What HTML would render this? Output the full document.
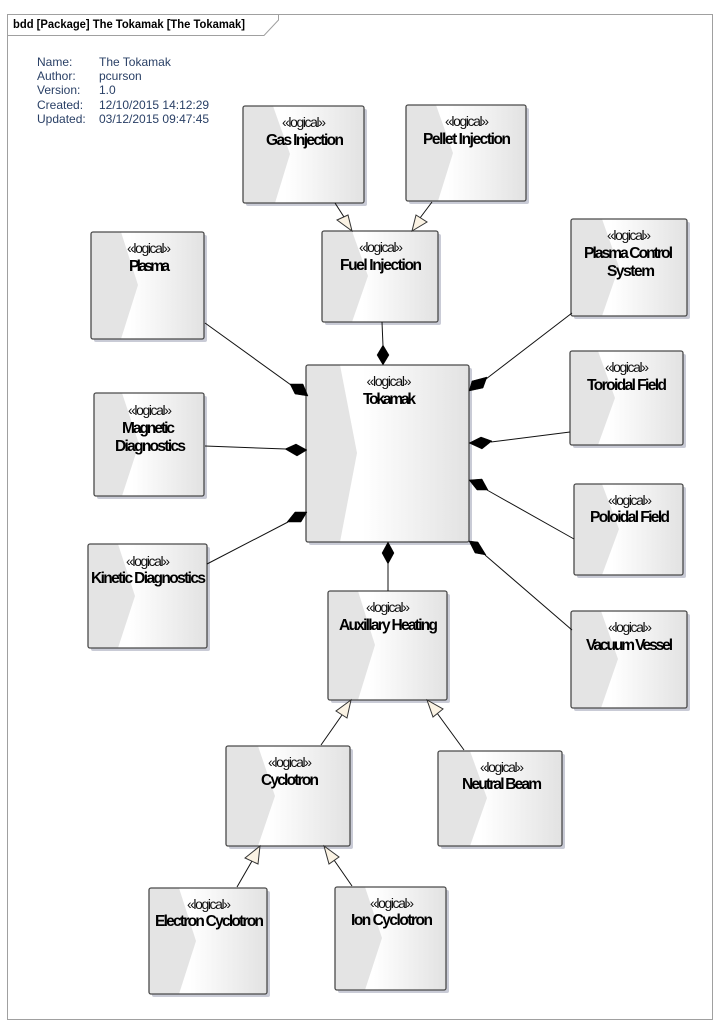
<!DOCTYPE html>
<html><head><meta charset="utf-8"><style>
html,body{margin:0;padding:0;background:#fff}
svg{display:block}
text{font-family:"Liberation Sans",Arial,sans-serif;text-anchor:middle;fill:#000}
.s{font-size:14px;fill:#111}
.n{font-size:15.5px;font-weight:bold}
.m{font-size:12px;text-anchor:start;fill:#2a4066}
.sh{fill:#c9cbd6}
.b{fill:none;stroke:#4a4a4a;stroke-width:1.3}
.c{fill:#e4e4e4}
.l{stroke:#111;stroke-width:1;fill:none}
.d{fill:#000;stroke:#000;stroke-width:.5}
.t{fill:#fbf3e4;stroke:#333;stroke-width:1}
</style></head><body>
<svg width="725" height="1033" viewBox="0 0 725 1033" xmlns="http://www.w3.org/2000/svg">
<defs><linearGradient id="g" x1="0" y1="0" x2="1" y2="0"><stop offset="0" stop-color="#fff"/><stop offset=".35" stop-color="#fff"/><stop offset="1" stop-color="#e2e2e2"/></linearGradient></defs>
<rect x="7.5" y="14.5" width="705" height="1005" fill="#fff" stroke="#a0a0a0" stroke-width="1"/>
<path d="M7.5 35.5H264L278.5 20V14.5" fill="none" stroke="#a0a0a0"/>
<text x="13" y="28" textLength="232" lengthAdjust="spacingAndGlyphs" style="font-size:12px;font-weight:bold;text-anchor:start">bdd [Package] The Tokamak [The Tokamak]</text>
<text class="m" x="37" y="66">Name:</text><text class="m" x="99" y="66">The Tokamak</text>
<text class="m" x="37" y="80">Author:</text><text class="m" x="99" y="80">pcurson</text>
<text class="m" x="37" y="94">Version:</text><text class="m" x="99" y="94">1.0</text>
<text class="m" x="37" y="109">Created:</text><text class="m" x="99" y="109">12/10/2015 14:12:29</text>
<text class="m" x="37" y="123">Updated:</text><text class="m" x="99" y="123">03/12/2015 09:47:45</text>

<!-- Gas Injection -->
<g><rect class="sh" x="246" y="109" width="121" height="97" rx="2"/><rect x="243" y="106" width="121" height="97" rx="2" fill="url(#g)"/><polygon class="c" points="243,106 273,106 290,154 275,203 243,203"/><rect class="b" x="243" y="106" width="121" height="97" rx="2"/><text class="s" x="304" y="127" textLength="44">«logical»</text><text class="n" x="305" y="145" textLength="78">Gas Injection</text></g>
<!-- Pellet Injection -->
<g><rect class="sh" x="409" y="108" width="120" height="96" rx="2"/><rect x="406" y="105" width="120" height="96" rx="2" fill="url(#g)"/><polygon class="c" points="406,105 436,105 453,153 438,201 406,201"/><rect class="b" x="406" y="105" width="120" height="96" rx="2"/><text class="s" x="467" y="126" textLength="44">«logical»</text><text class="n" x="467" y="144" textLength="88">Pellet Injection</text></g>
<!-- Fuel Injection -->
<g><rect class="sh" x="325" y="234" width="116" height="91" rx="2"/><rect x="322" y="231" width="116" height="91" rx="2" fill="url(#g)"/><polygon class="c" points="322,231 352,231 368,276 352,322 322,322"/><rect class="b" x="322" y="231" width="116" height="91" rx="2"/><text class="s" x="381" y="252" textLength="44">«logical»</text><text class="n" x="381" y="270" textLength="82">Fuel Injection</text></g>
<!-- Plasma -->
<g><rect class="sh" x="94" y="235" width="113" height="107" rx="2"/><rect x="91" y="232" width="113" height="107" rx="2" fill="url(#g)"/><polygon class="c" points="91,232 121,232 138,285 121,339 91,339"/><rect class="b" x="91" y="232" width="113" height="107" rx="2"/><text class="s" x="149" y="253" textLength="44">«logical»</text><text class="n" x="149.500" y="271" textLength="41">Plasma</text></g>
<!-- Plasma Control System -->
<g><rect class="sh" x="574" y="222" width="116" height="97" rx="2"/><rect x="571" y="219" width="116" height="97" rx="2" fill="url(#g)"/><polygon class="c" points="571,219 602,219 619,267 602,316 571,316"/><rect class="b" x="571" y="219" width="116" height="97" rx="2"/><text class="s" x="629" y="240" textLength="44">«logical»</text><text class="n" x="628.500" y="258" textLength="89">Plasma Control</text><text class="n" x="631" y="276" textLength="48">System</text></g>
<!-- Tokamak -->
<g><rect class="sh" x="309" y="368" width="163" height="177" rx="2"/><rect x="306" y="365" width="163" height="177" rx="2" fill="url(#g)"/><polygon class="c" points="306,365 340,365 357,453 340,542 306,542"/><rect class="b" x="306" y="365" width="163" height="177" rx="2"/><text class="s" x="389" y="386" textLength="45">«logical»</text><text class="n" x="389.500" y="404" textLength="53">Tokamak</text></g>
<!-- Toroidal Field -->
<g><rect class="sh" x="573" y="354" width="113" height="94" rx="2"/><rect x="570" y="351" width="113" height="94" rx="2" fill="url(#g)"/><polygon class="c" points="570,351 598,351 615,398 598,445 570,445"/><rect class="b" x="570" y="351" width="113" height="94" rx="2"/><text class="s" x="627" y="372" textLength="44">«logical»</text><text class="n" x="627" y="390" textLength="80">Toroidal Field</text></g>
<!-- Magnetic Diagnostics -->
<g><rect class="sh" x="97" y="396" width="110" height="103" rx="2"/><rect x="94" y="393" width="110" height="103" rx="2" fill="url(#g)"/><polygon class="c" points="94,393 122,393 139,444 122,496 94,496"/><rect class="b" x="94" y="393" width="110" height="103" rx="2"/><text class="s" x="150" y="415" textLength="44">«logical»</text><text class="n" x="148.500" y="433" textLength="53">Magnetic</text><text class="n" x="150.500" y="451" textLength="71">Diagnostics</text></g>
<!-- Poloidal Field -->
<g><rect class="sh" x="577" y="487" width="109" height="91" rx="2"/><rect x="574" y="484" width="109" height="91" rx="2" fill="url(#g)"/><polygon class="c" points="574,484 602,484 619,529 602,575 574,575"/><rect class="b" x="574" y="484" width="109" height="91" rx="2"/><text class="s" x="630" y="505" textLength="44">«logical»</text><text class="n" x="630" y="522" textLength="80">Poloidal Field</text></g>
<!-- Kinetic Diagnostics -->
<g><rect class="sh" x="91" y="547" width="119" height="104" rx="2"/><rect x="88" y="544" width="119" height="104" rx="2" fill="url(#g)"/><polygon class="c" points="88,544 118,544 135,596 118,648 88,648"/><rect class="b" x="88" y="544" width="119" height="104" rx="2"/><text class="s" x="148" y="566" textLength="44">«logical»</text><text class="n" x="148.500" y="583" textLength="115">Kinetic Diagnostics</text></g>
<!-- Auxillary Heating -->
<g><rect class="sh" x="331" y="594" width="119" height="109" rx="2"/><rect x="328" y="591" width="119" height="109" rx="2" fill="url(#g)"/><polygon class="c" points="328,591 358,591 375,645 358,700 328,700"/><rect class="b" x="328" y="591" width="119" height="109" rx="2"/><text class="s" x="388" y="612" textLength="44">«logical»</text><text class="n" x="388.500" y="630" textLength="99">Auxillary Heating</text></g>
<!-- Vacuum Vessel -->
<g><rect class="sh" x="574" y="614" width="116" height="97" rx="2"/><rect x="571" y="611" width="116" height="97" rx="2" fill="url(#g)"/><polygon class="c" points="571,611 601,611 618,659 601,708 571,708"/><rect class="b" x="571" y="611" width="116" height="97" rx="2"/><text class="s" x="630" y="632" textLength="44">«logical»</text><text class="n" x="629.500" y="650" textLength="87">Vacuum Vessel</text></g>
<!-- Cyclotron -->
<g><rect class="sh" x="229" y="749" width="124" height="100" rx="2"/><rect x="226" y="746" width="124" height="100" rx="2" fill="url(#g)"/><polygon class="c" points="226,746 258,746 275,796 258,846 226,846"/><rect class="b" x="226" y="746" width="124" height="100" rx="2"/><text class="s" x="290" y="767" textLength="44">«logical»</text><text class="n" x="290" y="785" textLength="58">Cyclotron</text></g>
<!-- Neutral Beam -->
<g><rect class="sh" x="441" y="754" width="124" height="95" rx="2"/><rect x="438" y="751" width="124" height="95" rx="2" fill="url(#g)"/><polygon class="c" points="438,751 470,751 487,798 470,846 438,846"/><rect class="b" x="438" y="751" width="124" height="95" rx="2"/><text class="s" x="502" y="772" textLength="44">«logical»</text><text class="n" x="502" y="789" textLength="80">Neutral Beam</text></g>
<!-- Electron Cyclotron -->
<g><rect class="sh" x="152" y="891" width="118" height="106" rx="2"/><rect x="149" y="888" width="118" height="106" rx="2" fill="url(#g)"/><polygon class="c" points="149,888 179,888 196,941 179,994 149,994"/><rect class="b" x="149" y="888" width="118" height="106" rx="2"/><text class="s" x="209" y="909" textLength="44">«logical»</text><text class="n" x="209.500" y="926" textLength="109">Electron Cyclotron</text></g>
<!-- Ion Cyclotron -->
<g><rect class="sh" x="338" y="890" width="111" height="103" rx="2"/><rect x="335" y="887" width="111" height="103" rx="2" fill="url(#g)"/><polygon class="c" points="335,887 365,887 382,938 365,990 335,990"/><rect class="b" x="335" y="887" width="111" height="103" rx="2"/><text class="s" x="392" y="908" textLength="44">«logical»</text><text class="n" x="392" y="925" textLength="82">Ion Cyclotron</text></g>

<!-- connectors -->
<path class="l" d="M335 203L344 217M432 202L420 218M382 322L383 346M205 323L291 385M205 446L286 449M207 564L288 522M572 313L486 379M570 432L491 442M574 539L487 490M572 630L485 555M388 591V563M321 745L342 715M464 750L437 713M237 887L252 861M352 886L334 860"/>

<!-- heads -->
<polygon class="t" points="352,231 337,220 348,215"/>
<polygon class="t" points="412,231 416,215 427,222"/>
<polygon class="t" points="351,700 336,711 347,718"/>
<polygon class="t" points="427,700 433,717 443,709"/>
<polygon class="t" points="260,846 245,858 258,864"/>
<polygon class="t" points="324,846 329,864 339,857"/>
<polygon class="d" points="383,345 389,355 383,365 377,355"/>
<polygon class="d" points="290,384 303,384 308,396 295,394"/>
<polygon class="d" points="307,450 296,444 285,449 297,456"/>
<polygon class="d" points="307,512 295,512 287,522 301,522"/>
<polygon class="d" points="469,391 472,381 487,377 483,388"/>
<polygon class="d" points="469,443 481,437 492,441 482,449"/>
<polygon class="d" points="469,480 482,479 488,490 477,490"/>
<polygon class="d" points="469,541 478,542 486,555 475,553"/>
<polygon class="d" points="388,542 394,553 388,564 382,553"/>
</svg>
</body></html>
